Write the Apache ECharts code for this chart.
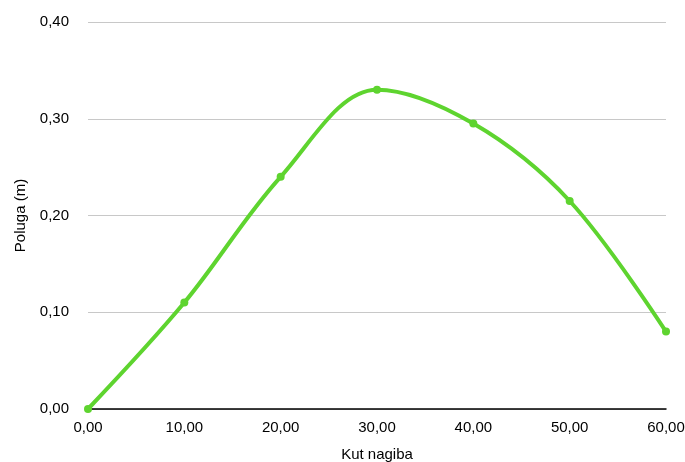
<!DOCTYPE html>
<html><head><meta charset="utf-8">
<script src="https://cdn.jsdelivr.net/npm/echarts@6/dist/echarts.min.js"></script>
<style>html,body{margin:0;padding:0;background:#fff}#c{width:685px;height:462px}</style>
</head><body><div id="c"></div>
<script>
const angles = [0, 10, 20, 30, 40, 50, 60];
const ranges = [0, 0.11, 0.24, 0.33, 0.295, 0.215, 0.08];
const xTitle = 'Kut nagiba';
const yTitle = 'Poluga (m)';
const fmt = v => v.toFixed(2).replace('.', ',');
const FF = 'Helvetica, Arial, "Liberation Sans", sans-serif';
const chart = echarts.init(document.getElementById('c'));
chart.setOption({
  animation: false,
  grid: {left: 88, right: 19, top: 22, bottom: 53, outerBoundsMode: 'none', containLabel: false},
  xAxis: {
    type: 'value', min: 0, max: 60, interval: 10,
    name: xTitle, nameLocation: 'middle', nameGap: 38,
    nameTextStyle: {color: '#000', fontSize: 15, fontFamily: FF},
    axisLine: {show: true, lineStyle: {color: '#000', width: 1.5}},
    axisTick: {show: false},
    splitLine: {show: false},
    axisLabel: {formatter: fmt, color: '#000', fontSize: 15, margin: 11, fontFamily: FF}
  },
  yAxis: {
    type: 'value', min: 0, max: 0.4, interval: 0.1,
    name: yTitle, nameLocation: 'middle', nameGap: 60, nameRotate: 90,
    nameTextStyle: {color: '#000', fontSize: 15, fontFamily: FF},
    axisLine: {show: false},
    axisTick: {show: false},
    splitLine: {lineStyle: {color: '#c8c8c8', width: 1}},
    axisLabel: {formatter: fmt, color: '#000', fontSize: 15, margin: 19, fontFamily: FF}
  },
  series: [{
    type: 'line', smooth: 0.35, smoothConstraint: false,
    data: angles.map((a, i) => [a, ranges[i]]),
    symbol: 'circle', symbolSize: 8,
    itemStyle: {color: '#5ed42f'},
    lineStyle: {color: '#5ed42f', width: 4}
  }]
});
</script></body></html>
